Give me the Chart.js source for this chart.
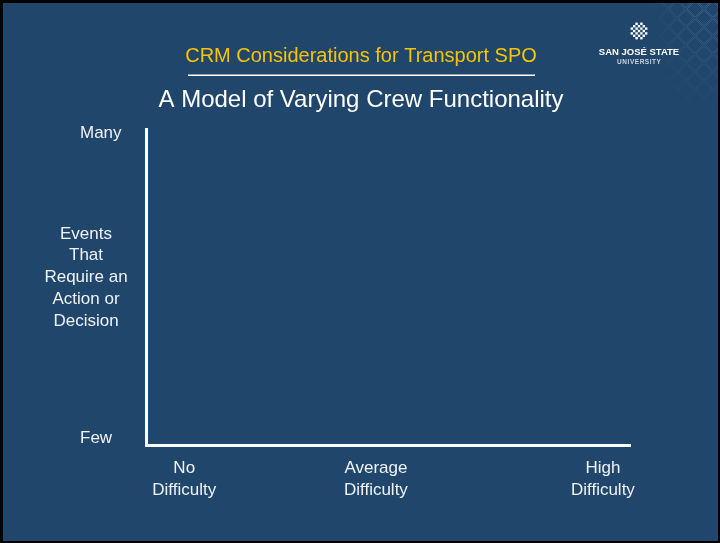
<!DOCTYPE html>
<html>
<head>
<meta charset="utf-8">
<script src="https://cdn.jsdelivr.net/npm/chart.js@4.4.1/dist/chart.umd.min.js"></script>
<style>
  html, body { margin: 0; padding: 0; background: #21466b; }
  #wrap { width: 720px; height: 543px; }
</style>
</head>
<body>
<div id="wrap"><canvas id="myChart" width="720" height="543"></canvas></div>
<script>
// axis ticks (in axis units, 0..10 on both axes)
const xTickValues = [0.79, 4.75, 9.44];
const xTickLabels = [['No', 'Difficulty'], ['Average', 'Difficulty'], ['High', 'Difficulty']];
const yTickValues = [0.22, 9.87];
const yTickLabels = ['Few', 'Many'];
const yTitleLines = ['Events', 'That', 'Require an', 'Action or', 'Decision'];
const titleText = 'CRM Considerations for Transport SPO';
const subtitleText = 'A Model of Varying Crew Functionality';
const logoLines = ['SAN JOSÉ STATE', 'UNIVERSITY'];

const FONT = "'Liberation Sans', Arial, sans-serif";
const BG = '#21466b';
const TEXT = '#eef2f6';

const slidePlugin = {
  id: 'slide',
  beforeDraw(chart) {
    const ctx = chart.ctx;
    const w = chart.width, h = chart.height;
    ctx.save();
    ctx.fillStyle = BG;
    ctx.fillRect(0, 0, w, h);

    // faint diamond pattern in the top right corner
    ctx.lineWidth = 1;
    const s = 9;
    for (let row = 0; row < 14; row++) {
      const cy = row * s;
      for (let cx = 650 + (row % 2 ? s : 0); cx < w + s; cx += 2 * s) {
        const fade = Math.max(0, Math.min(1, (cx - 650) / 45)) * Math.max(0, 1 - cy / 115);
        if (fade <= 0) continue;
        ctx.strokeStyle = 'rgba(80,120,160,' + (0.5 * fade).toFixed(3) + ')';
        ctx.beginPath();
        ctx.moveTo(cx, cy - s + 1);
        ctx.lineTo(cx + s - 1, cy);
        ctx.lineTo(cx, cy + s - 1);
        ctx.lineTo(cx - s + 1, cy);
        ctx.closePath();
        ctx.stroke();
      }
    }

    // logo mark
    ctx.fillStyle = '#ffffff';
    const lx = 639, ly = 31;
    for (let i = -3; i <= 3; i++) {
      for (let j = -3; j <= 3; j++) {
        if (Math.abs(i) + Math.abs(j) > 4) continue;
        if ((i + j) % 2 !== 0) continue;
        ctx.fillRect(lx + i * 2.4 - 1.2, ly + j * 2.4 - 1.2, 2.4, 2.4);
      }
    }
    ctx.textAlign = 'center';
    ctx.textBaseline = 'middle';
    ctx.font = 'bold 9.5px ' + FONT;
    ctx.fillText(logoLines[0], lx, 52);
    ctx.fillStyle = '#c9d3dd';
    ctx.font = 'bold 6.5px ' + FONT;
    ctx.fillText(logoLines[1].split('').join(String.fromCharCode(8202)), lx, 62);

    // titles
    ctx.fillStyle = '#f6c500';
    ctx.font = '20px ' + FONT;
    ctx.fillText(titleText, 361, 56);
    ctx.fillStyle = '#ffffff';
    ctx.fillRect(188, 74.5, 347, 1.5);
    ctx.fillStyle = '#ffffff';
    ctx.font = '24px ' + FONT;
    ctx.fillText(subtitleText, 361, 100);

    // y axis description
    ctx.fillStyle = TEXT;
    ctx.font = '17px ' + FONT;
    yTitleLines.forEach((line, i) => {
      ctx.fillText(line, 86, 234 + i * 21.8);
    });
    ctx.restore();
  },
  afterDraw(chart) {
    const ctx = chart.ctx;
    ctx.save();
    ctx.fillStyle = '#000000';
    ctx.fillRect(0, 0, chart.width, 3);
    ctx.fillRect(0, 0, 3, chart.height);
    ctx.fillRect(chart.width - 2, 0, 2, chart.height);
    ctx.fillRect(0, chart.height - 2, chart.width, 2);
    ctx.restore();
  }
};

const ctx = document.getElementById('myChart').getContext('2d');
const myChart = new Chart(ctx, {
  type: 'scatter',
  data: {
    datasets: [{
      data: []
    }]
  },
  options: {
    responsive: false,
    animation: false,
    layout: {
      padding: { top: 129, left: 80, right: 90, bottom: 0 }
    },
    plugins: {
      legend: { display: false },
      tooltip: { enabled: false }
    },
    scales: {
      x: {
        type: 'linear',
        min: 0,
        max: 10,
        grid: { display: false, drawTicks: false },
        border: { display: true, color: '#ffffff', width: 3 },
        afterBuildTicks: (scale) => {
          scale.ticks = xTickValues.map((v) => ({ value: v }));
        },
        afterFit: (scale) => { scale.height = 98; },
        ticks: {
          autoSkip: false,
          maxRotation: 0,
          padding: 12,
          color: TEXT,
          font: { family: FONT, size: 17, lineHeight: 1.3 },
          callback: (value, index) => xTickLabels[index]
        }
      },
      y: {
        type: 'linear',
        min: 0,
        max: 10,
        grid: { display: false, drawTicks: false },
        border: { display: true, color: '#ffffff', width: 3 },
        afterBuildTicks: (scale) => {
          scale.ticks = yTickValues.map((v) => ({ value: v }));
        },
        afterFit: (scale) => { scale.width = 66; },
        ticks: {
          autoSkip: false,
          crossAlign: 'far',
          color: TEXT,
          font: { family: FONT, size: 17 },
          callback: (value, index) => yTickLabels[index]
        }
      }
    }
  },
  plugins: [slidePlugin]
});
</script>
</body>
</html>
